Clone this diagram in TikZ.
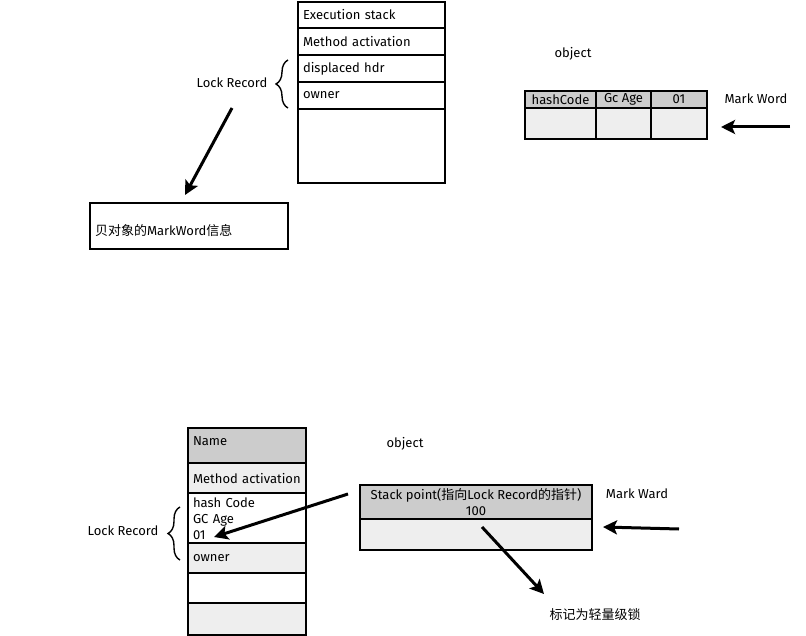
\documentclass[tikz,border=0pt]{standalone}
\usepackage{fontspec}
\setmainfont{Fira Sans}
\newfontfamily\cjk{Noto Sans CJK SC}
\usetikzlibrary{arrows.meta,decorations.pathreplacing}
\definecolor{hdrgray}{HTML}{CCCCCC}
\definecolor{rowgray}{HTML}{EEEEEE}
\begin{document}
\begin{tikzpicture}[x=1pt,y=-1pt,
  every node/.style={font=\fontsize{13}{15}\selectfont},
  cell/.style={draw,line width=1.7pt,rectangle,inner sep=5pt,align=left,anchor=center},
  stackrow/.style={cell,text width=#1-10pt,minimum width=#1},
  tcell/.style={draw,line width=1.7pt,rectangle,inner sep=1pt,align=center,anchor=center},
  bigarrow/.style={line width=3pt,-{Stealth[length=14pt,width=14pt,inset=3pt]}},
  lbrace/.style={line width=1.4pt,decorate,decoration={brace,amplitude=12pt,aspect=0.5}}]
\useasboundingbox (0,0) rectangle (806,636);

% ---------- upper part: execution stack ----------
\node[stackrow=147pt,minimum height=26pt] (es1) at (371.5,15) {Execution stack};
\node[stackrow=147pt,minimum height=27pt] (es2) at (371.5,41.5) {Method activation};
\node[stackrow=147pt,minimum height=27pt] (es3) at (371.5,68.5) {displaced hdr};
\node[stackrow=147pt,minimum height=27pt] (es4) at (371.5,95.5) {owner};
\node[stackrow=147pt,minimum height=74pt] (es5) at (371.5,146) {};

\draw[lbrace] (288,108) -- (288,60);
\node (lr1) at (232,83) {Lock Record};

\node[draw,line width=1.7pt,minimum width=198pt,minimum height=46pt,anchor=center,
      text width=188pt,text height=22pt,text depth=2pt,inner sep=5pt,align=left] (copy) at (189,226)
      {{\cjk 贝对象的}MarkWord{\cjk 信息}};
\coordinate (a1s) at (232,108);
\draw[bigarrow] (a1s) -- (185,195) coordinate (a1e);

% upper object header
\node (obj1) at (573,54) {object};
\node[tcell,fill=hdrgray,minimum width=71pt,minimum height=17pt] (h1) at (560.5,99.5) {hashCode};
\node[tcell,fill=hdrgray,minimum width=55pt,minimum height=17pt] (h2) at (623.5,99.5) {Gc Age};
\node[tcell,fill=hdrgray,minimum width=56pt,minimum height=17pt] (h3) at (679,99.5) {01};
\node[tcell,fill=rowgray,minimum width=71pt,minimum height=31pt] (b1) at (560.5,123.5) {};
\node[tcell,fill=rowgray,minimum width=55pt,minimum height=31pt] (b2) at (623.5,123.5) {};
\node[tcell,fill=rowgray,minimum width=56pt,minimum height=31pt] (b3) at (679,123.5) {};
\node (mw1) at (756,99) {Mark Word};
\coordinate (m1s) at (790,127);
\coordinate (m1e) at (721,127);
\draw[bigarrow] (m1s) -- (m1e);

% ---------- lower part: stack with lock record ----------
\node[stackrow=118pt,fill=hdrgray,minimum height=35pt,text depth=9pt] (ls1) at (247,445.5) {Name};
\node[stackrow=118pt,fill=rowgray,minimum height=32pt] (ls2) at (247,479) {Method activation};
\node[stackrow=118pt,fill=white,minimum height=48pt,inner sep=5pt,
      font=\fontsize{13}{16}\selectfont] (ls3) at (247,519) {hash Code\\GC Age\\01};
\node[stackrow=118pt,fill=rowgray,minimum height=30pt] (ls4) at (247,558) {owner};
\node[stackrow=118pt,fill=white,minimum height=30pt] (ls5) at (247,588) {};
\node[stackrow=118pt,fill=rowgray,minimum height=32pt] (ls6) at (247,619) {};

\draw[lbrace] (180,560) -- (180,507);
\node (lr2) at (123,531) {Lock Record};

% lower object header
\node (obj2) at (405,444) {object};
\node[tcell,fill=hdrgray,minimum width=232pt,minimum height=34pt,
      font=\fontsize{13}{16}\selectfont] (oh) at (476,502)
      {Stack point({\cjk 指向}Lock Record{\cjk 的指针})\\100};
\node[tcell,fill=rowgray,minimum width=232pt,minimum height=31pt] (ob) at (476,534.5) {};
\node (mw2) at (637,494) {Mark Ward};
\node (lite) at (595,615) {\cjk 标记为轻量级锁};

\coordinate (m2s) at (679,529);
\draw[bigarrow] (m2s) -- (603,527) coordinate (m2e);
\coordinate (p1s) at (348,494);
\draw[bigarrow] (p1s) -- (214,537) coordinate (p1e);
\coordinate (p2s) at (482,527);
\draw[bigarrow] (p2s) -- (544,594) coordinate (p2e);
\end{tikzpicture}
\end{document}
